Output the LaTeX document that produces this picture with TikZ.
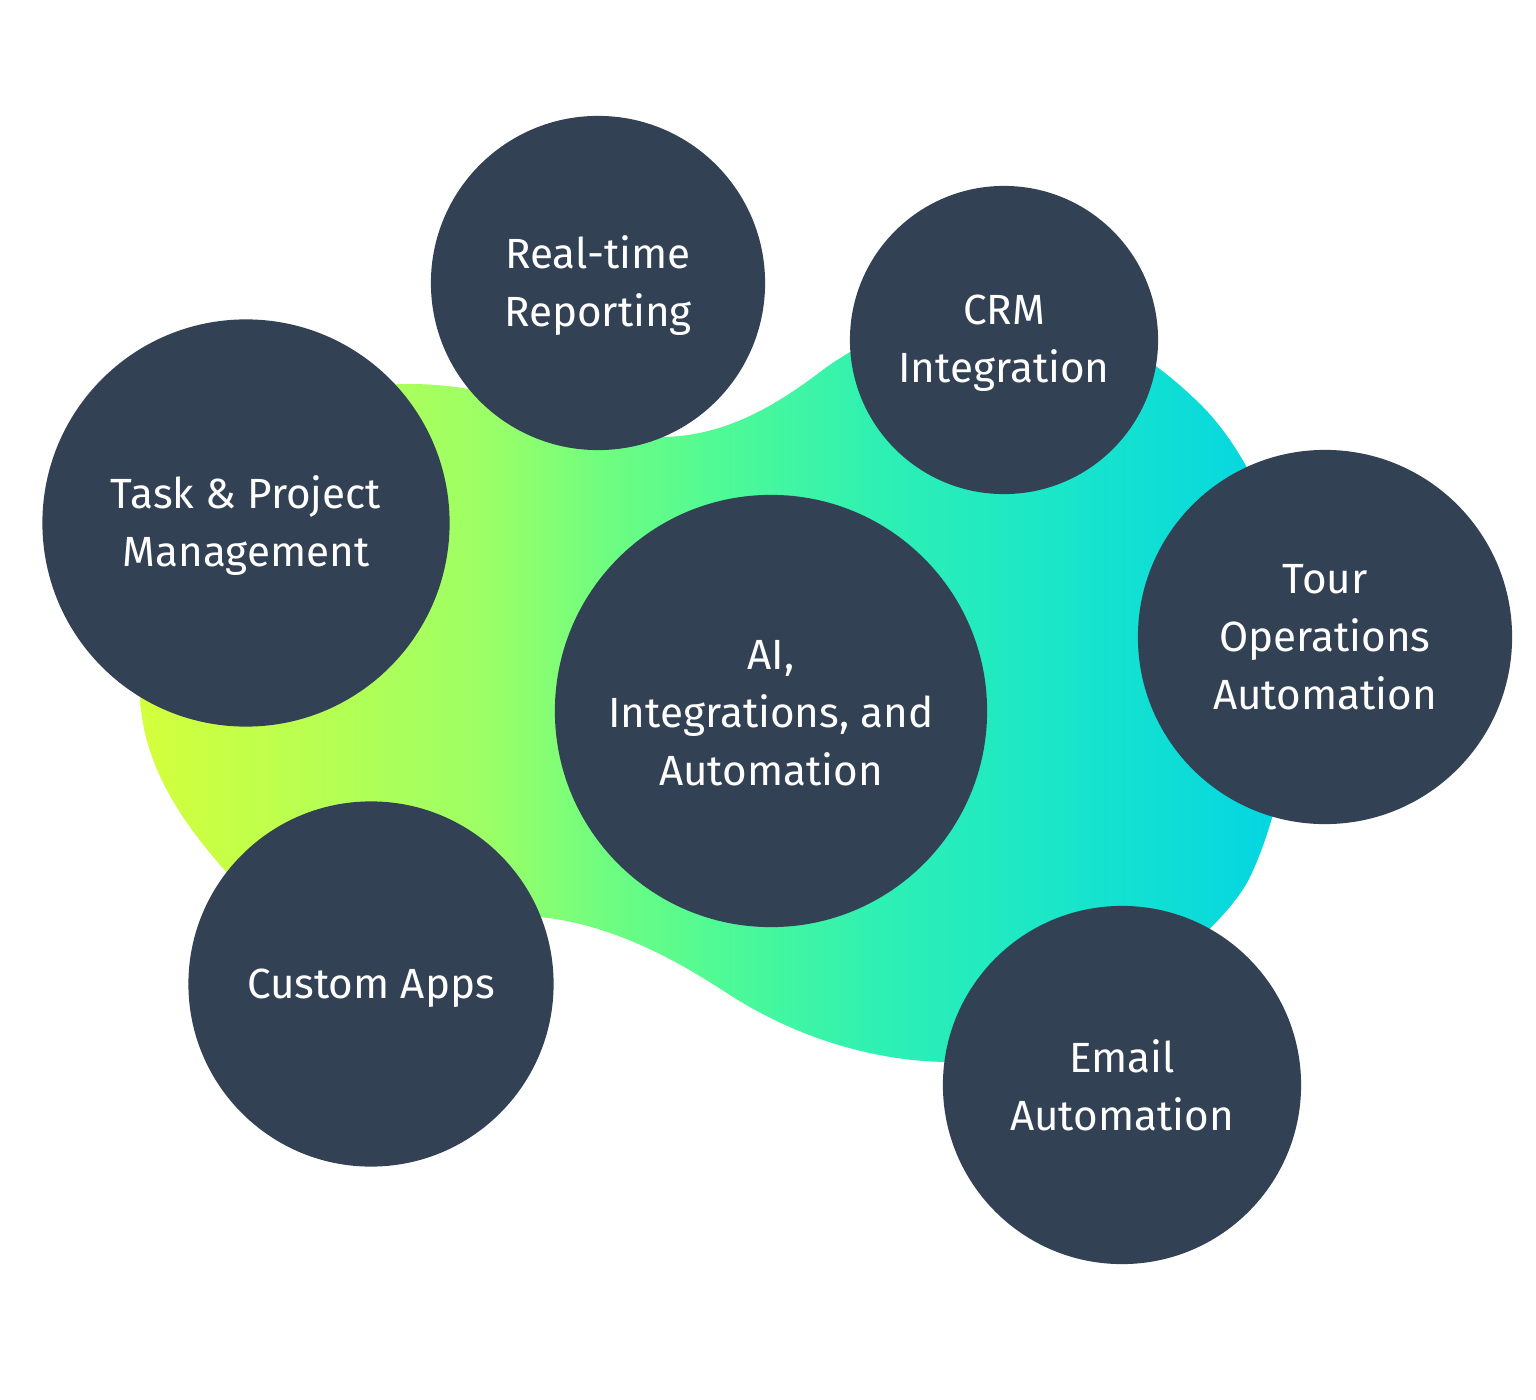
\documentclass[tikz,border=0pt]{standalone}
\usepackage{fontspec}
\setmainfont{Fira Sans}
\definecolor{slate}{HTML}{334155}
\definecolor{gA}{HTML}{D4FF3C}
\definecolor{gB}{HTML}{9CFF66}
\definecolor{gC}{HTML}{70FD80}
\definecolor{gD}{HTML}{50FA95}
\definecolor{gE}{HTML}{2EF0B3}
\definecolor{gF}{HTML}{1EE9C4}
\definecolor{gG}{HTML}{02D4E4}
\pgfdeclarehorizontalshading{blobshade}{100bp}{color(0bp)=(gA); color(25bp)=(gA);
  color(40bp)=(gB); color(45bp)=(gC); color(50bp)=(gD); color(57bp)=(gE);
  color(63bp)=(gF); color(75bp)=(gG); color(100bp)=(gG)}
\begin{document}
\begin{tikzpicture}[x=0.01cm,y=-0.01cm,
  bubble/.style={circle, fill=slate, inner sep=0pt},
  btext/.style={text=white, align=center, inner sep=0pt,
    font=\fontsize{12}{16.5}\selectfont}]
\useasboundingbox (0,0) rectangle (1536,1400);
\fill[white] (0,0) rectangle (1536,1400);
\path[shading=blobshade]
  (140,690) .. controls (140,480) and (260,384) .. (410,384)
  .. controls (520,384) and (590,437) .. (660,437)
  .. controls (720,437) and (770,410) .. (820,372)
  .. controls (870,334) and (930,315) .. (1000,315)
  .. controls (1080,315) and (1140,345) .. (1200,404)
  .. controls (1250,453) and (1295,550) .. (1295,650)
  .. controls (1295,740) and (1275,825) .. (1250,877)
  .. controls (1220,940) and (1060,1062) .. (950,1062)
  .. controls (880,1062) and (800,1040) .. (730,995)
  .. controls (690,969) and (620,925) .. (540,917)
  .. controls (460,909) and (262,913) .. (227,873)
  .. controls (192,833) and (140,770) .. (140,690) -- cycle;
\node[bubble, minimum size=3.34cm] (rt) at (598,283) {};
\node[bubble, minimum size=3.08cm] (crm) at (1004,340) {};
\node[bubble, minimum size=4.07cm] (task) at (246,523) {};
\node[bubble, minimum size=4.32cm] (ai) at (771,711) {};
\node[bubble, minimum size=3.74cm] (tour) at (1325,637) {};
\node[bubble, minimum size=3.65cm] (apps) at (371,984) {};
\node[bubble, minimum size=3.58cm] (email) at (1122,1085) {};
\node[btext] (rtT) at ([yshift=-0.025cm]rt.center) {Real-time\\Reporting};
\node[btext] (crmT) at ([yshift=-0.03cm]crm.center) {CRM\\Integration};
\node[btext] (taskT) at ([yshift=-0.025cm]task.center) {Task \& Project\\Management};
\node[btext] (aiT) at ([yshift=-0.025cm]ai.center) {AI,\\Integrations, and\\Automation};
\node[btext] (tourT) at ([yshift=-0.005cm]tour.center) {Tour\\Operations\\Automation};
\node[btext] (appsT) at ([yshift=-0.045cm]apps.center) {Custom Apps};
\node[btext] (emailT) at ([yshift=-0.005cm]email.center) {Email\\Automation};
\end{tikzpicture}
\end{document}
